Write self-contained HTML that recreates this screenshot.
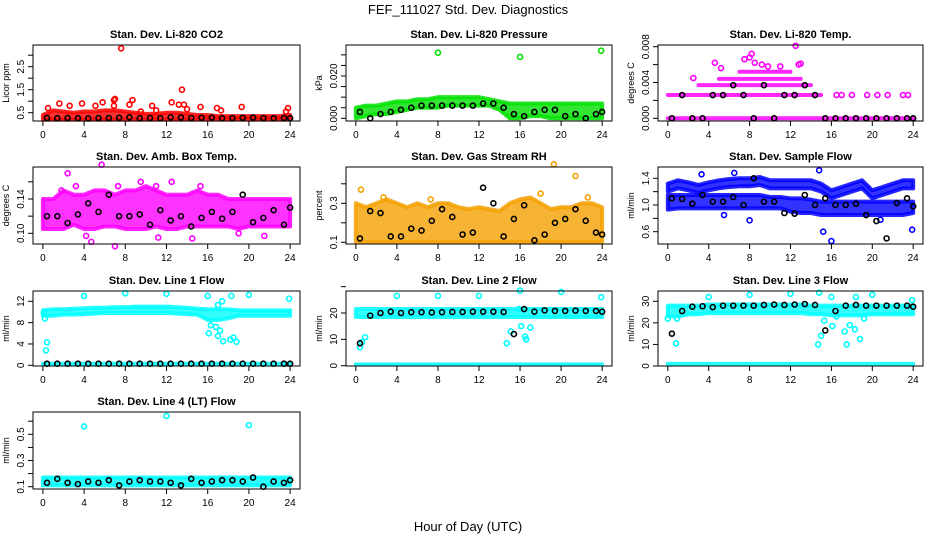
<!DOCTYPE html>
<html><head><meta charset="utf-8"><style>
html,body{margin:0;padding:0;background:#fff;}
svg{display:block;font-family:"Liberation Sans",sans-serif;}
</style></head><body>
<svg id="chart" width="936" height="540" viewBox="0 0 936 540" xmlns="http://www.w3.org/2000/svg">
<rect width="936" height="540" fill="#fff"/>
<text x="468" y="14" text-anchor="middle" font-size="13">FEF_111027  Std. Dev. Diagnostics</text>
<text x="468" y="531" text-anchor="middle" font-size="13">Hour of Day (UTC)</text>
<g id="plots"></g>
</svg>
<script>
const HOURS=[0,1,2,3,4,5,6,7,8,9,10,11,12,13,14,15,16,17,18,19,20,21,22,23,24];
const XTICKS=[0,4,8,12,16,20,24];

// Panel 1: CO2
const co2Lo=[0.2,0.2,0.2,0.2,0.2,0.2,0.2,0.2,0.2,0.2,0.2,0.2,0.2,0.2,0.2,0.2,0.2,0.2,0.2,0.2,0.2,0.2,0.2,0.2,0.2];
const co2Hi=[0.4,0.6,0.55,0.5,0.55,0.55,0.6,0.6,0.55,0.5,0.45,0.45,0.5,0.5,0.45,0.4,0.4,0.35,0.35,0.35,0.35,0.35,0.35,0.35,0.4];
const co2PtX=[7.6,13.5,1.6,3.8,5.8,6.9,7.0,8.7,10.6,12.5,13.2,13.7,15.3,16.9,19.3,23.8,2.6,5.1,0.5,8.4,6.9,14,9.5,17.3,23.6,11];
const co2PtY=[3.3,1.5,0.9,0.9,0.95,1.05,1.1,1.05,0.8,0.95,0.85,0.85,0.75,0.7,0.75,0.7,0.8,0.8,0.7,0.85,0.8,0.65,0.55,0.6,0.55,0.6];
const co2Black=[0.27,0.26,0.27,0.26,0.25,0.27,0.27,0.28,0.3,0.26,0.27,0.26,0.3,0.29,0.27,0.28,0.29,0.26,0.27,0.28,0.29,0.27,0.26,0.27,0.26];

// Panel 2: Pressure
const prLo=[0,0.001,0.002,0.002,0.003,0.004,0.005,0.005,0.005,0.006,0.006,0.006,0.006,0.006,0.004,0,0,0.001,0.001,0,0,0,0,0,0];
const prHi=[0.005,0.006,0.006,0.007,0.008,0.008,0.009,0.009,0.01,0.01,0.01,0.01,0.01,0.009,0.008,0.007,0.007,0.007,0.007,0.007,0.007,0.007,0.007,0.007,0.007];
const prPtX=[8,16,23.9];
const prPtY=[0.031,0.029,0.032];
const prBlack=[0.003,0,0.002,0.003,0.004,0.005,0.006,0.006,0.006,0.006,0.006,0.006,0.007,0.007,0.005,0.002,0.001,0.003,0.004,0.004,0.001,0.002,0,0.002,0.003];

// Panel 3: Li-820 Temp (discrete levels)
const tL0=[0,0,0,0,0,0,0,0,0,0,0,0,0,0,0,0,0,0,0,0,0,0,0,0,0];
const tL1=[0.0026,0.0026,0.0026,0.0026,0.0026,0.0026,0.0026,0.0026,0.0026,0.0026,0.0026,0.0026,0.0026,0.0026,0.0026,0.0026,null,null,null,null,null,null,null,null,null];
const tL2=[null,null,null,0.0037,0.0037,0.0037,0.0037,0.0037,0.0037,0.0037,0.0037,0.0037,0.0037,0.0037,0.0037,null,null,null,null,null,null,null,null,null,null];
const tL3=[null,null,null,null,null,0.0044,0.0044,0.0044,0.0044,0.0044,0.0044,0.0044,0.0044,0.0044,null,null,null,null,null,null,null,null,null,null,null];
const tL4=[null,null,null,null,null,null,null,0.0052,0.0052,0.0052,0.0052,0.0052,0.0052,null,null,null,null,null,null,null,null,null,null,null,null];
const tPtX=[2.5,4.6,5.2,7.5,8,8.2,8.5,9.2,9.8,11,12.5,12.8,13,16.5,17,18,19.5,20.5,21.5,23,23.5];
const tPtY=[0.0045,0.0062,0.0056,0.0066,0.0068,0.0072,0.0062,0.006,0.0058,0.0058,0.0081,0.006,0.0061,0.0026,0.0026,0.0026,0.0026,0.0026,0.0026,0.0026,0.0026];
const tBlack=[0,0.0026,0,0,0.0026,0.0026,0.0037,0.0026,0,0.0037,0,0.0026,0.0026,0.0037,0.0026,0,0,0,0,0,0,0,0,0,0];

// Panel 4: Amb Box Temp
const abLo=[0.105,0.105,0.105,0.11,0.105,0.105,0.108,0.108,0.105,0.105,0.105,0.108,0.105,0.105,0.108,0.108,0.108,0.108,0.108,0.105,0.108,0.108,0.108,0.108,0.108];
const abHi=[0.14,0.14,0.15,0.145,0.145,0.15,0.15,0.145,0.15,0.15,0.155,0.15,0.145,0.145,0.145,0.15,0.145,0.145,0.14,0.14,0.14,0.14,0.14,0.14,0.14];
const abPtX=[2.4,5.7,3.2,7.0,4.7,12.5,9.5,7.3,1.8,11,15.3,21.5,14.5,4.2,19,11.2];
const abPtY=[0.17,0.18,0.155,0.085,0.09,0.16,0.16,0.155,0.15,0.155,0.155,0.097,0.094,0.097,0.1,0.095];
const abBlack=[0.12,0.12,0.112,0.122,0.135,0.125,0.145,0.12,0.12,0.122,0.11,0.127,0.115,0.12,0.108,0.118,0.125,0.117,0.125,0.145,0.113,0.118,0.127,0.11,0.13];

// Panel 5: Gas Stream RH
const rhLo=[0.1,0.1,0.1,0.1,0.1,0.1,0.1,0.1,0.1,0.1,0.1,0.1,0.1,0.1,0.1,0.1,0.1,0.1,0.1,0.1,0.1,0.1,0.1,0.1,0.1];
const rhHi=[0.3,0.28,0.3,0.32,0.3,0.28,0.3,0.28,0.3,0.3,0.28,0.27,0.28,0.27,0.26,0.3,0.32,0.33,0.3,0.27,0.28,0.28,0.3,0.3,0.28];
const rhPtX=[0.5,19.3,21.4,18,22.6,2.7,7.3];
const rhPtY=[0.37,0.5,0.44,0.35,0.33,0.33,0.32];
const rhBlack=[0.12,0.26,0.25,0.13,0.13,0.17,0.16,0.21,0.27,0.23,0.14,0.15,0.38,0.3,0.13,0.22,0.29,0.11,0.14,0.2,0.22,0.27,0.21,0.15,0.14];

// Panel 6: Sample Flow
const sfLo=[0.93,0.95,0.95,0.95,0.95,0.95,0.95,0.95,0.95,0.95,0.95,0.95,0.9,0.88,0.88,0.85,0.85,0.85,0.85,0.85,0.85,0.85,0.85,0.85,0.88];
const sfHi=[1.15,1.15,1.15,1.15,1.15,1.15,1.15,1.15,1.15,1.15,1.12,1.12,1.1,1.1,1.08,1.05,1.05,1.05,1.05,1.05,1.05,1.05,1.05,1.05,1.05];
const sf2Lo=[1.2,1.25,1.22,1.18,1.22,1.25,1.27,1.28,1.28,1.3,1.25,1.25,1.25,1.25,1.25,1.2,1.1,1.15,1.2,1.25,1.1,1.15,1.2,1.25,1.25];
const sf2Hi=[1.32,1.37,1.34,1.3,1.34,1.37,1.39,1.4,1.4,1.42,1.37,1.37,1.37,1.37,1.37,1.32,1.22,1.27,1.32,1.37,1.22,1.27,1.32,1.37,1.37];
const sfPtX=[15.2,16,8,23.9,14.8,6.5,3.3,5.5,20.8];
const sfPtY=[0.6,0.46,0.77,0.63,1.52,1.48,1.46,0.85,0.78];
const sfBlack=[1.1,1.09,1.02,1.15,1.05,1.05,1.12,1.0,1.4,1.05,1.05,0.88,0.87,1.15,1.0,1.1,1.0,1.0,1.02,0.85,0.76,0.5,1.03,1.1,0.98];

// Panel 7: Line 1 Flow
const l1Lo=[9.3,9.3,9.5,9.5,9.6,9.7,9.8,9.8,9.8,9.8,9.8,9.8,9.8,9.7,9.6,9.5,8.5,8.5,8.8,9.3,9.3,9.3,9.3,9.3,9.3];
const l1Hi=[10.3,10.5,10.5,10.6,10.7,10.8,10.8,10.9,10.9,11,11,11,11,10.9,10.8,10.6,10.5,10.5,10.5,10.3,10.3,10.3,10.3,10.3,10.3];
const l1Zero=[0.3,0.3,0.3,0.3,0.3,0.3,0.3,0.3,0.3,0.3,0.3,0.3,0.3,0.3,0.3,0.3,0.3,0.3,0.3,0.3,0.3,0.3,0.3,0.3,0.3];
const l1PtX=[0.1,0.2,0.3,0.4,4,8,12,16,18.3,20,23.9,16.1,16.3,16.8,17.2,17,17.5,18.2,18.5,18.8,17.4,17];
const l1PtY=[9.8,8.8,2.8,4.3,13,13.5,13.4,13,13,13.2,12.5,6,7.5,7.2,6.5,5.5,4.5,4.8,5.2,4.4,12,11.3];
const l1Black=[0.3,0.3,0.3,0.3,0.3,0.3,0.3,0.3,0.3,0.3,0.3,0.3,0.3,0.3,0.3,0.3,0.3,0.3,0.3,0.3,0.3,0.3,0.3,0.3,0.3];

// Panel 8: Line 2 Flow
const l2Lo=[18.5,18.5,18.5,18.5,18.5,18.5,18.5,18.5,18.5,18.5,18.5,18.5,18.5,18.5,18.5,18.5,18.5,18.5,18.5,18.5,18.5,18.5,18.5,18.5,18.5];
const l2Hi=[21.5,21.5,21.5,21.5,21.5,21.5,21.5,21.5,21.5,21.5,21.5,21.5,21.5,21.5,21.5,21.5,21.5,21.5,21.5,21.5,21.5,21.5,21.5,21.5,21.5];
const l2Zero=[0.5,0.5,0.5,0.5,0.5,0.5,0.5,0.5,0.5,0.5,0.5,0.5,0.5,0.5,0.5,0.5,0.5,0.5,0.5,0.5,0.5,0.5,0.5,0.5,0.5];
const l2PtX=[0.4,0.6,0.9,4,8,12,16,20,23.9,14.7,15.1,16.1,16.5,16.6,17,15.9];
const l2PtY=[7,9,10.8,26.5,26.5,26.5,28.5,28,26,8.5,13,15,11,10,14.5,21.5];
const l2Black=[8.5,19,20,20.5,20,20.3,20.3,20.2,20.3,20.4,20.4,20.5,20.5,20.5,20.4,12,21.5,20.5,21,20.8,20.8,20.9,20.8,20.8,20.5];

// Panel 9: Line 3 Flow
const l3Lo=[23,23,24,24,24.5,24.5,24.5,24.5,24.5,24.5,24.5,24.5,24.5,24.5,24,24,23.5,23.5,23.5,23.5,24,24,24,24,24];
const l3Hi=[28,28,28,28,28.5,28.5,28.5,28.5,28.5,28.5,28.5,28.5,28.5,28.5,28,28,28,28,28,28,28,28,28,28,28];
const l3Zero=[1,1,1,1,1,1,1,1,1,1,1,1,1,1,1,1,1,1,1,1,1,1,1,1,1];
const l3PtX=[0,0.8,0.9,4,8,12,14.7,14.8,15,15.3,16,16.1,17.3,17.5,17.8,18.3,18.4,18.8,20,23.9,16.5,19.2];
const l3PtY=[22,10.5,22,32,33,33.5,10,34,14,21,32,18.5,16,10,19,17,32,12.5,33,30.5,23,22];
const l3Black=[15,25.5,27.5,27.7,27.3,28,28,28,28,28.3,28.5,28.3,28.5,28.7,28.3,16.5,25.5,28,28.3,28,28,28,28,28,27.5];

// Panel 10: Line 4 (LT) Flow
const l4Lo=[0.11,0.11,0.11,0.11,0.11,0.11,0.11,0.11,0.11,0.11,0.11,0.11,0.11,0.11,0.11,0.11,0.11,0.11,0.11,0.11,0.11,0.11,0.11,0.11,0.11];
const l4Hi=[0.17,0.17,0.17,0.17,0.17,0.17,0.17,0.17,0.17,0.17,0.17,0.17,0.17,0.17,0.17,0.17,0.17,0.17,0.17,0.17,0.17,0.17,0.17,0.17,0.17];
const l4PtX=[4,12,20];
const l4PtY=[0.56,0.64,0.57];
const l4Black=[0.13,0.16,0.13,0.12,0.14,0.13,0.15,0.11,0.14,0.15,0.14,0.14,0.13,0.11,0.16,0.13,0.14,0.15,0.15,0.14,0.17,0.1,0.14,0.13,0.15];

const NS='http://www.w3.org/2000/svg';
const root=document.getElementById('plots');
function el(tag,attrs,parent){const e=document.createElementNS(NS,tag);for(const k in attrs)e.setAttribute(k,attrs[k]);(parent||root).appendChild(e);return e;}
const COLS=[[33,300],[346,612],[658,923]];
const ROWS=[[45,121],[167,244],[291,366],[412,489]];

const panels=[
 {slug:'co2',title:'Stan. Dev. Li-820 CO2',ylab:'Licor ppm',c:0,r:0,col:'#ff0000',map:[0.5,112.7,3.0,55.2],ticks:[0.5,1,1.5,2,2.5,3],labels:['0.5','1.5','2.5'],bands:[[co2Lo,co2Hi]],px:co2PtX,py:co2PtY,black:co2Black},
 {slug:'pressure',title:'Stan. Dev. Li-820 Pressure',ylab:'kPa',c:1,r:0,col:'#00e000',map:[0,118.3,0.02,76],ticks:[0,0.005,0.01,0.015,0.02,0.025,0.03],labels:['0.000','0.020'],bands:[[prLo,prHi]],px:prPtX,py:prPtY,black:prBlack},
 {slug:'li820-temp',title:'Stan. Dev. Li-820 Temp.',ylab:'degrees C',c:2,r:0,col:'#ff00ff',map:[0,118.3,0.008,46.7],ticks:[0,0.002,0.004,0.006,0.008],labels:['0.000','0.004','0.008'],bands:[[tL0,tL0],[tL1,tL1],[tL2,tL2],[tL3,tL3],[tL4,tL4]],px:tPtX,py:tPtY,black:tBlack},
 {slug:'amb-box-temp',title:'Stan. Dev. Amb. Box Temp.',ylab:'degrees C',c:0,r:1,col:'#ff00ff',map:[0.10,233.3,0.14,199],ticks:[0.10,0.12,0.14,0.16],labels:['0.10','0.14'],bands:[[abLo,abHi]],px:abPtX,py:abPtY,black:abBlack},
 {slug:'gas-rh',title:'Stan. Dev. Gas Stream RH',ylab:'percent',c:1,r:1,col:'#f5a000',map:[0.1,242.3,0.3,203.3],ticks:[0.1,0.2,0.3,0.4],labels:['0.1','0.3'],bands:[[rhLo,rhHi]],px:rhPtX,py:rhPtY,black:rhBlack},
 {slug:'sample-flow',title:'Stan. Dev. Sample Flow',ylab:'ml/min',c:2,r:1,col:'#0000ff',map:[0.6,231.7,1.4,178.3],ticks:[0.6,0.8,1.0,1.2,1.4],labels:['0.6','1.0','1.4'],bands:[[sfLo,sfHi],[sf2Lo,sf2Hi]],px:sfPtX,py:sfPtY,black:sfBlack},
 {slug:'line1-flow',title:'Stan. Dev. Line 1 Flow',ylab:'ml/min',c:0,r:2,col:'#00ffff',map:[0,365.3,12,301.3],ticks:[0,4,8,12],labels:['0','4','8','12'],bands:[[l1Lo,l1Hi],[l1Zero,l1Zero]],px:l1PtX,py:l1PtY,black:l1Black},
 {slug:'line2-flow',title:'Stan. Dev. Line 2 Flow',ylab:'ml/min',c:1,r:2,col:'#00ffff',map:[0,365.7,20,313],ticks:[0,10,20,30],labels:['0','10','20'],bands:[[l2Lo,l2Hi],[l2Zero,l2Zero]],px:l2PtX,py:l2PtY,black:l2Black},
 {slug:'line3-flow',title:'Stan. Dev. Line 3 Flow',ylab:'ml/min',c:2,r:2,col:'#00ffff',map:[0,366,30,301.3],ticks:[0,10,20,30],labels:['0','10','20','30'],bands:[[l3Lo,l3Hi],[l3Zero,l3Zero]],px:l3PtX,py:l3PtY,black:l3Black},
 {slug:'line4-flow',title:'Stan. Dev. Line 4 (LT) Flow',ylab:'ml/min',c:0,r:3,col:'#00ffff',map:[0.1,486.7,0.5,434.3],ticks:[0.1,0.2,0.3,0.4,0.5,0.6],labels:['0.1','0.3','0.5'],bands:[[l4Lo,l4Hi]],px:l4PtX,py:l4PtY,black:l4Black}
];

panels.forEach(p=>{
 const [L,R]=COLS[p.c],[T,B]=ROWS[p.r];
 const xs=h=>L+(h+0.96)/25.92*(R-L);
 const [v1,p1,v2,p2]=p.map;
 const ys=v=>p1+(v-v1)*(p2-p1)/(v2-v1);
 const g=el('g',{});
 
 
 const t=el('text',{x:(L+R)/2,y:T-7,'text-anchor':'middle','font-size':11,'font-weight':'bold'},g);
 t.textContent=p.title;
 
 
 const cx=L-24,cy=(T+B)/2;
 const yl=el('text',{x:cx,y:cy,'text-anchor':'middle','font-size':9,transform:`rotate(-90 ${cx} ${cy})`},g);
 yl.textContent=p.ylab;
 
 
 p.bands.forEach(([lo,hi])=>{
  let seg=[];
  const flush=()=>{
   if(!seg.length)return;
   const top=seg.map(i=>xs(HOURS[i])+','+ys(hi[i])).join(' ');
   const bot=seg.slice().reverse().map(i=>xs(HOURS[i])+','+ys(lo[i])).join(' ');
   const poly=el('polygon',{points:top+' '+bot,fill:p.col,'fill-opacity':0.8,stroke:p.col,'stroke-width':4,'stroke-opacity':0.85,'stroke-linejoin':'round'},g);
   
   
   seg=[];
  };
  HOURS.forEach((h,i)=>{if(lo[i]==null||hi[i]==null)flush();else seg.push(i);});
  flush();
 });
 p.px.forEach((h,i)=>{
  const c=el('circle',{cx:xs(h),cy:ys(p.py[i]),r:2.5,fill:'none',stroke:p.col,'stroke-width':1.6},g);
  
  
 });
 p.black.forEach((v,i)=>{
  if(v==null)return;
  const c=el('circle',{cx:xs(HOURS[i]+0.5>24?24:HOURS[i]+0.4),cy:ys(v),r:2.5,fill:'none',stroke:'#000','stroke-width':1.6},g);
  
  
 });
 const box=el('rect',{x:L,y:T,width:R-L,height:B-T,fill:'none',stroke:'#000','stroke-width':1},g);
 
 
 XTICKS.forEach(h=>{
  el('line',{x1:xs(h),x2:xs(h),y1:B,y2:B+5,stroke:'#000'},g);
  const tl=el('text',{x:xs(h),y:B+17,'text-anchor':'middle','font-size':10},g);
  tl.textContent=h;
  
  
 });
 p.ticks.forEach(v=>{el('line',{x1:L-5,x2:L,y1:ys(v),y2:ys(v),stroke:'#000'},g);});
 p.labels.forEach(s=>{
  const v=parseFloat(s),yy=ys(v),xx=L-9;
  const tl=el('text',{x:xx,y:yy,'text-anchor':'middle','font-size':10,transform:`rotate(-90 ${xx} ${yy})`},g);
  tl.textContent=s;
  
  
 });
});
</script>
</body></html>
